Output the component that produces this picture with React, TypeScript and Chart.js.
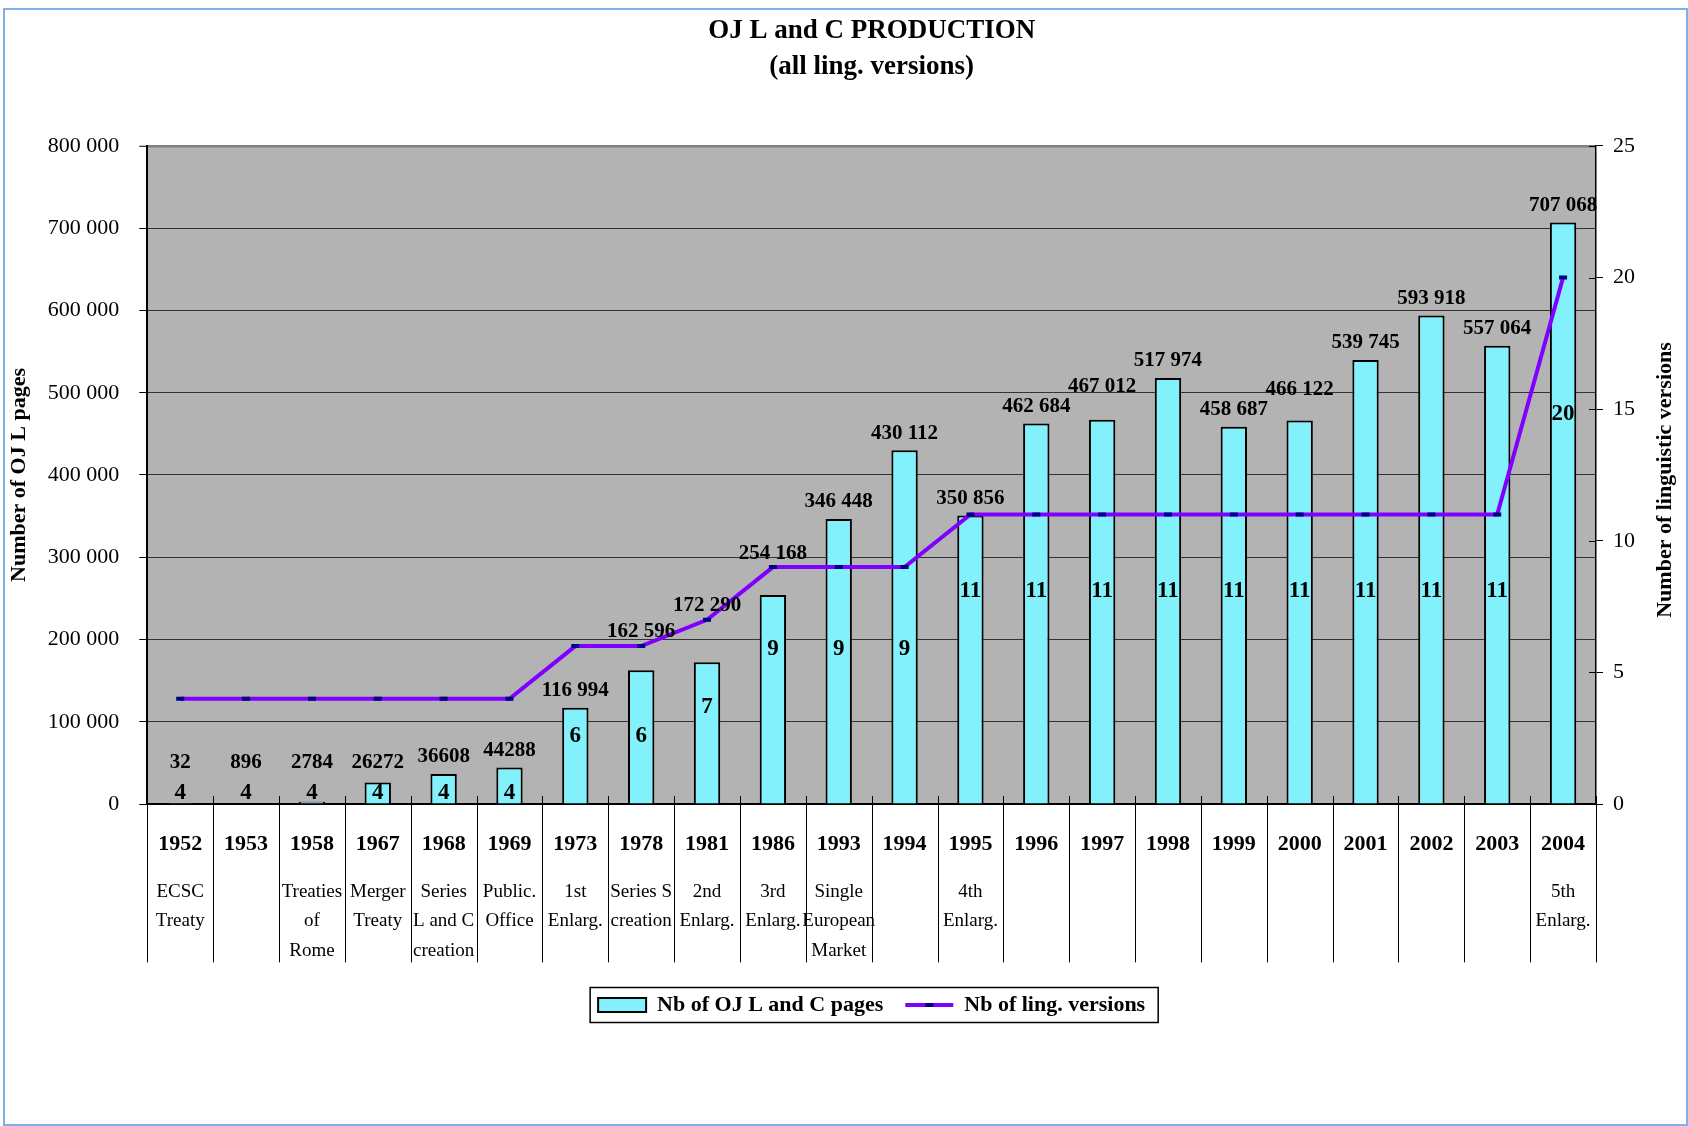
import React, { useEffect, useRef } from 'react';
import { Chart, registerables } from 'chart.js';

Chart.register(...registerables);

// ---------- data ----------
const years = ['1952', '1953', '1958', '1967', '1968', '1969', '1973', '1978', '1981', '1986', '1993',
  '1994', '1995', '1996', '1997', '1998', '1999', '2000', '2001', '2002', '2003', '2004'];

const events: (string | string[])[] = [
  ['ECSC', 'Treaty'], '', ['Treaties', 'of', 'Rome'], ['Merger', 'Treaty'], ['Series', 'L and C', 'creation'],
  ['Public.', 'Office'], ['1st', 'Enlarg.'], ['Series S', 'creation'], ['2nd', 'Enlarg.'], ['3rd', 'Enlarg.'],
  ['Single', 'European', 'Market'], '', ['4th', 'Enlarg.'], '', '', '', '', '', '', '', '', ['5th', 'Enlarg.'],
];

const pages = [32, 896, 2784, 26272, 36608, 44288, 116994, 162596, 172290, 254168, 346448,
  430112, 350856, 462684, 467012, 517974, 458687, 466122, 539745, 593918, 557064, 707068];

const versions = [4, 4, 4, 4, 4, 4, 6, 6, 7, 9, 9, 9, 11, 11, 11, 11, 11, 11, 11, 11, 11, 20];

const titleLines = ['OJ L and C PRODUCTION', '(all ling. versions)'];
const pagesLabel = 'Nb of OJ L and C pages';
const versionsLabel = 'Nb of ling. versions';
const leftAxisTitle = 'Number of OJ L pages';
const rightAxisTitle = 'Number of linguistic versions';

const pagesMax = 800000;
const pagesStep = 100000;
const versionsMax = 25;
const versionsStep = 5;

// ---------- styles ----------
const FONT = "'Liberation Serif', 'Times New Roman', serif";
const BAR_FILL = '#82f1fc';
const LINE_COLOR = '#8000ff';
const MARKER_COLOR = '#000080';
const PLOT_BG = '#b3b3b3';
const DESC_SIZE = 19;
const DESC_LH = 1.55;
const DESC_PAD = 13;

const groupDigits = (v: number) => String(v).replace(/\B(?=(\d{3})+(?!\d))/g, ' ');
const fmtPages = (v: number) => (v >= 100000 ? groupDigits(v) : String(v));

const decorPlugin = {
  id: 'decor',
  beforeDraw(chart: any) {
    const { ctx, chartArea: a } = chart;
    ctx.save();
    ctx.fillStyle = PLOT_BG;
    ctx.fillRect(a.left, a.top, a.right - a.left, a.bottom - a.top);
    ctx.restore();
  },
  afterDatasetsDraw(chart: any) {
    const { ctx } = chart;
    const bars = chart.getDatasetMeta(0).data;
    const pts = chart.getDatasetMeta(1).data;
    const y1 = chart.scales.y1;
    ctx.save();
    ctx.fillStyle = '#000';
    ctx.textAlign = 'center';
    ctx.textBaseline = 'middle';
    ctx.font = `bold 21px ${FONT}`;
    let prevY = Infinity;
    bars.forEach((bar: any, i: number) => {
      const lineY = pts[i].y;
      let y = Math.min(bar.y - 17, bar.base - 41);
      if (y > lineY - 14 && y < lineY + 28) y = lineY - 14;
      if (Math.abs(y - prevY) < 22 && bar.base - bar.y > 100) y = prevY - 20;
      ctx.fillText(fmtPages(pages[i]), bar.x, y);
      prevY = y;
    });
    ctx.font = `bold 23px ${FONT}`;
    pts.forEach((p: any, i: number) => {
      const v = versions[i];
      const at = Math.min(1.1 * (v - 4) + 0.4, 0.74 * v);
      ctx.fillText(String(v), p.x, y1.getPixelForValue(at));
    });
    ctx.restore();
  },
  afterDraw(chart: any) {
    const { ctx, chartArea: a } = chart;
    const x = chart.scales.x;
    const x2 = chart.scales.x2;
    const y1 = chart.scales.y1;
    const n = years.length;
    const w = (x.right - x.left) / n;
    const maxLines = Math.max(...events.map((e) => (Array.isArray(e) ? e.length : 1)));
    const sepBottom = x2.top + DESC_PAD + maxLines * DESC_SIZE * DESC_LH - 3;
    ctx.save();
    // category separators
    ctx.strokeStyle = '#000';
    ctx.lineWidth = 1;
    ctx.beginPath();
    for (let k = 0; k <= n; k++) {
      const px = Math.round(x.left + k * w) + 0.5;
      ctx.moveTo(px, a.bottom - 8);
      ctx.lineTo(px, sepBottom);
    }
    // inner tick marks on right axis
    y1.ticks.forEach((t: any) => {
      const py = Math.round(y1.getPixelForValue(t.value)) + 0.5;
      ctx.moveTo(y1.left - 7, py);
      ctx.lineTo(y1.left, py);
    });
    ctx.stroke();

    // right axis title (reads bottom to top)
    ctx.save();
    ctx.translate(y1.right - 13, (y1.top + y1.bottom) / 2 + 5);
    ctx.rotate(-Math.PI / 2);
    ctx.fillStyle = '#000';
    ctx.font = `bold 22px ${FONT}`;
    ctx.textAlign = 'center';
    ctx.textBaseline = 'middle';
    ctx.fillText(rightAxisTitle, 0, 0);
    ctx.restore();

    // legend frame and marker
    const hb = chart.legend && chart.legend.legendHitBoxes;
    if (hb && hb.length === 2) {
      const cy = hb[0].top + 11;
      const left = hb[0].left - 8;
      const right = hb[1].left + hb[1].width + 13;
      ctx.strokeStyle = '#000';
      ctx.lineWidth = 1.5;
      ctx.strokeRect(left, cy - 17.5, right - left, 35);
      ctx.fillStyle = MARKER_COLOR;
      ctx.fillRect(hb[1].left + 24 - 4, cy - 2, 8, 4);
    }
    ctx.restore();
  },
};

export default function App() {
  const ref = useRef<HTMLCanvasElement | null>(null);

  useEffect(() => {
    if (!ref.current) return;
    const chart = new Chart(ref.current, {
      type: 'bar',
      data: {
        labels: years,
        datasets: [
          {
            type: 'bar',
            label: pagesLabel,
            data: pages,
            yAxisID: 'y',
            xAxisID: 'x',
            backgroundColor: BAR_FILL,
            borderColor: '#000',
            borderWidth: 2,
            barPercentage: 0.4,
            categoryPercentage: 1,
            order: 1,
          } as any,
          {
            type: 'line',
            label: versionsLabel,
            data: versions,
            yAxisID: 'y1',
            xAxisID: 'x',
            borderColor: LINE_COLOR,
            borderWidth: 4,
            tension: 0,
            fill: false,
            pointStyle: 'line',
            pointRadius: 4,
            pointBorderWidth: 4,
            pointBorderColor: MARKER_COLOR,
            pointBackgroundColor: MARKER_COLOR,
            order: 0,
          } as any,
        ],
      },
      options: {
        responsive: false,
        animation: false,
        devicePixelRatio: 1,
        events: [],
        layout: { padding: { top: 13.5, left: 6, right: 10, bottom: 100 } },
        scales: {
          x: {
            type: 'category',
            position: 'bottom',
            offset: true,
            grid: { display: false, drawTicks: false },
            border: { display: true, color: '#000', width: 2 },
            ticks: {
              autoSkip: false,
              maxRotation: 0,
              minRotation: 0,
              padding: 27,
              color: '#000',
              font: { family: FONT, size: 22, weight: 'bold', lineHeight: 1.2 },
            },
            afterFit: (s: any) => { s.height = 60; },
          },
          x2: {
            type: 'category',
            position: 'bottom',
            labels: events as any,
            offset: true,
            weight: 1,
            grid: { display: false, drawTicks: false },
            border: { display: false },
            ticks: {
              autoSkip: false,
              maxRotation: 0,
              minRotation: 0,
              padding: DESC_PAD,
              color: '#000',
              font: { family: FONT, size: DESC_SIZE, lineHeight: DESC_LH },
            },
            afterFit: (s: any) => { s.height = 108; },
          } as any,
          y: {
            type: 'linear',
            position: 'left',
            min: 0,
            max: pagesMax,
            ticks: {
              stepSize: pagesStep,
              padding: 20,
              color: '#000',
              font: { family: FONT, size: 22 },
              callback: (v: any) => groupDigits(Number(v)),
            },
            grid: {
              color: (c: any) => (c.tick && c.tick.value === pagesMax ? '#808080' : '#333333'),
              lineWidth: (c: any) => (c.tick && c.tick.value === pagesMax ? 2.5 : 1),
              tickLength: 8,
              tickColor: '#000',
              tickWidth: 1,
            },
            border: { display: true, color: '#000', width: 2 },
            title: {
              display: true,
              text: leftAxisTitle,
              color: '#000',
              padding: { top: 0, bottom: 0 },
              font: { family: FONT, size: 22, weight: 'bold', lineHeight: 1.2 },
            },
            afterFit: (s: any) => { s.width = 141.3; },
          },
          y1: {
            type: 'linear',
            position: 'right',
            min: 0,
            max: versionsMax,
            ticks: {
              stepSize: versionsStep,
              padding: 10,
              color: '#000',
              font: { family: FONT, size: 22 },
            },
            grid: { drawOnChartArea: false, tickLength: 7, tickColor: '#000', tickWidth: 1 },
            border: { display: true, color: '#000', width: 1.5 },
            afterFit: (s: any) => { s.width = 82; },
          },
        },
        plugins: {
          tooltip: { enabled: false },
          title: {
            display: true,
            text: titleLines,
            fullSize: false,
            color: '#000',
            padding: { top: 0, bottom: 61.2 },
            font: { family: FONT, size: 27, weight: 'bold', lineHeight: 1.32 },
          },
          legend: {
            display: true,
            position: 'bottom',
            fullSize: false,
            labels: {
              usePointStyle: true,
              pointStyleWidth: 48,
              boxHeight: 14,
              padding: 22,
              color: '#000',
              font: { family: FONT, size: 22, weight: 'bold' },
              generateLabels: () => [
                {
                  text: pagesLabel,
                  fillStyle: BAR_FILL,
                  strokeStyle: '#000',
                  lineWidth: 2,
                  pointStyle: 'rect',
                  hidden: false,
                  datasetIndex: 0,
                  fontColor: '#000',
                },
                {
                  text: versionsLabel,
                  fillStyle: LINE_COLOR,
                  strokeStyle: LINE_COLOR,
                  lineWidth: 4,
                  pointStyle: 'line',
                  hidden: false,
                  datasetIndex: 1,
                  fontColor: '#000',
                },
              ] as any,
            },
          } as any,
        },
      } as any,
      plugins: [decorPlugin],
    });
    return () => chart.destroy();
  }, []);

  return (
    <div style={{ position: 'fixed', left: 0, top: 0, width: 1688, height: 1126, background: '#fff' }}>
      <canvas ref={ref} width={1688} height={1126} style={{ position: 'absolute', left: 0, top: 0, width: 1688, height: 1126 }} />
      <div
        style={{
          position: 'absolute', left: 3, top: 8, width: 1685, height: 1118,
          border: '2px solid #7fb1e8', boxSizing: 'border-box', pointerEvents: 'none',
        }}
      />
    </div>
  );
}
